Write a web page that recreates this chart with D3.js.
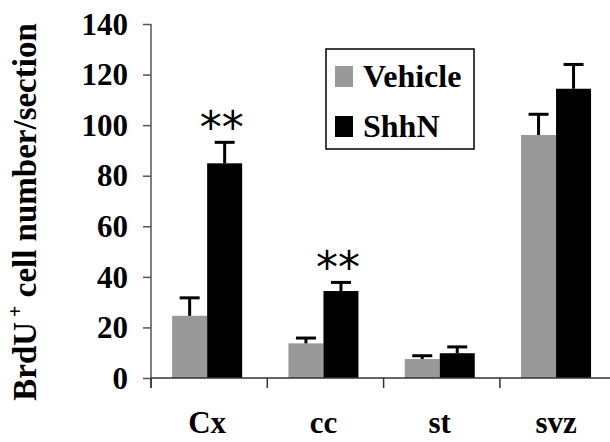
<!DOCTYPE html>
<html>
<head>
<meta charset="utf-8">
<script src="https://cdn.jsdelivr.net/npm/d3@7"></script>
</head>
<body style="margin:0">
<svg id="chart" width="610" height="442"></svg>
<script>
// Chart data
const regions = ["Cx", "cc", "st", "svz"];
const series = ["Vehicle", "ShhN"];
const vehicle = [24.6, 13.7, 7.5, 96.1];
const vehicleErr = [7.1, 2.1, 1.3, 8.2];
const shhn = [84.9, 34.4, 9.8, 114.4];
const shhnErr = [8.3, 3.4, 2.5, 9.6];
const signif = ["**", "**", "", ""];
const yTicks = [0, 20, 40, 60, 80, 100, 120, 140];
const colors = { Vehicle: "#999999", ShhN: "#000000" };

const width = 610, height = 442;
const plotLeft = 151, plotTop = 24, plotBottom = 378;
const fontFam = "Liberation Serif";

const svg = d3.select("svg#chart");

const yScale = d3.scaleLinear().domain([0, 140]).range([plotBottom, plotTop]);
const x0 = d3.scaleBand().domain(regions).range([plotLeft, plotLeft + 4 * 116.3]);
const x1 = d3.scaleBand().domain(series).range([0, 70]);
const groupOff = x0.bandwidth() / 2 - 35 - 2;

// rows: one per bar
const rows = [];
regions.forEach((r, i) => {
  rows.push({ region: r, s: "Vehicle", v: vehicle[i], e: vehicleErr[i] });
  rows.push({ region: r, s: "ShhN", v: shhn[i], e: shhnErr[i] });
});
const bx = d => x0(d.region) + groupOff + x1(d.s);

// Bars
svg.append("g").selectAll("rect")
  .data(rows)
  .join("rect")
  .attr("x", bx)
  .attr("width", x1.bandwidth())
  .attr("y", d => yScale(d.v))
  .attr("height", d => yScale(0) - yScale(d.v))
  .attr("fill", d => colors[d.s]);

// Error bars (upper only)
const errG = svg.append("g").attr("stroke", "#000").attr("stroke-width", 3);
errG.selectAll("line.v")
  .data(rows)
  .join("line")
  .attr("class", "v")
  .attr("x1", d => bx(d) + x1.bandwidth() / 2)
  .attr("x2", d => bx(d) + x1.bandwidth() / 2)
  .attr("y1", d => yScale(d.v))
  .attr("y2", d => yScale(d.v + d.e));
errG.selectAll("line.cap")
  .data(rows)
  .join("line")
  .attr("class", "cap")
  .attr("x1", d => bx(d) + x1.bandwidth() / 2 - 10)
  .attr("x2", d => bx(d) + x1.bandwidth() / 2 + 10)
  .attr("y1", d => yScale(d.v + d.e))
  .attr("y2", d => yScale(d.v + d.e));

// Significance stars, sitting just above the error bar
svg.append("g").selectAll("text")
  .data(regions.map((r, i) => ({ region: r, t: signif[i], top: shhn[i] + shhnErr[i] })))
  .join("text")
  .attr("x", d => x0(d.region) + groupOff + x1("ShhN") + x1.bandwidth() / 2 - 3)
  .attr("y", d => yScale(d.top) + 1)
  .attr("text-anchor", "middle")
  .attr("font-size", 44)
  .style("font-family", "DejaVu Sans")
  .text(d => d.t);

// Y axis
const yAxisG = svg.append("g").attr("transform", `translate(${plotLeft},0)`);
yAxisG.call(d3.axisLeft(yScale).tickValues(yTicks).tickSize(8).tickPadding(15));
yAxisG.attr("font-family", null).attr("font-size", null);
yAxisG.select(".domain").attr("stroke", "#555").attr("stroke-width", 1.5)
  .attr("d", `M0,${plotTop}V${plotBottom + 10}`);
yAxisG.selectAll(".tick line").attr("stroke", "#555").attr("stroke-width", 1.5);
yAxisG.selectAll(".tick text")
  .attr("font-size", 31)
  .attr("font-weight", "bold")
  .style("font-family", fontFam)
  .attr("fill", "#000")
  .attr("dy", "0.33em");

// X axis: line plus ticks at category boundaries
const xAxisG = svg.append("g");
xAxisG.append("line")
  .attr("x1", plotLeft).attr("x2", width)
  .attr("y1", plotBottom).attr("y2", plotBottom)
  .attr("stroke", "#333").attr("stroke-width", 1.5);
xAxisG.selectAll("line.tk")
  .data(regions)
  .join("line")
  .attr("class", "tk")
  .attr("x1", d => x0(d)).attr("x2", d => x0(d))
  .attr("y1", plotBottom).attr("y2", plotBottom + 10)
  .attr("stroke", "#333").attr("stroke-width", 1.5);
xAxisG.selectAll("text")
  .data(regions)
  .join("text")
  .attr("x", d => x0(d) + groupOff + 35)
  .attr("y", 433)
  .attr("text-anchor", "middle")
  .attr("font-size", 31)
  .attr("font-weight", "bold")
  .style("font-family", fontFam)
  .text(d => d);

// Y axis title
const yTitle = svg.append("text")
  .attr("transform", "translate(36,212) rotate(-90)")
  .attr("text-anchor", "middle")
  .attr("font-size", 33)
  .attr("font-weight", "bold")
  .style("font-family", fontFam);
yTitle.append("tspan").text("BrdU");
yTitle.append("tspan").attr("font-size", 20).attr("dy", -14).text(" +");
yTitle.append("tspan").attr("dy", 14).text(" cell number/section");

// Legend
const legend = svg.append("g");
legend.append("rect")
  .attr("x", 326).attr("y", 49)
  .attr("width", 148).attr("height", 100)
  .attr("fill", "#fff").attr("stroke", "#000").attr("stroke-width", 1.5);
const items = legend.selectAll("g.item")
  .data(series)
  .join("g")
  .attr("class", "item")
  .attr("transform", (d, i) => `translate(335,${66 + i * 50})`);
items.append("rect")
  .attr("width", 18).attr("height", 21)
  .attr("fill", d => colors[d]);
items.append("text")
  .attr("x", 28).attr("y", 21)
  .attr("font-size", 32)
  .attr("font-weight", "bold")
  .style("font-family", fontFam)
  .text(d => d);
</script>
</body>
</html>
